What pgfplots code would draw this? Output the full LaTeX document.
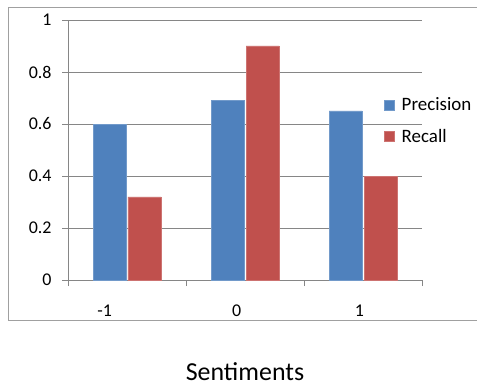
\documentclass[border=0pt]{standalone}
\usepackage{pgfplots}
\pgfplotsset{compat=1.18}
\usepackage{fontspec}
\setmainfont{Carlito}
\definecolor{cblue}{HTML}{4F81BD}
\definecolor{cred}{HTML}{C0504D}
\definecolor{cgrid}{HTML}{868686}
\definecolor{cborder}{HTML}{A0A0A0}
\begin{document}
\begin{tikzpicture}[x=1bp,y=1bp]
\path (0,0) rectangle (477,387);
\draw[cborder, line width=1bp] (476.5,67) -- (8,67) -- (8,379) -- (476.5,379);
\begin{axis}[
  at={(68bp,107bp)}, anchor=south west,
  scale only axis, width=354bp, height=260bp,
  ybar, bar width=33bp,
  xmin=-0.5, xmax=2.5, ymin=0, ymax=1,
  ytick={0,0.2,...,1},
  yticklabel style={font=\fontsize{18}{18}\selectfont, xshift=-7bp},
  /pgf/number format/assume math mode=true,
  ymajorgrids, grid style={cgrid, line width=0.8bp},
  axis x line*=bottom, axis y line*=left,
  axis line style={cgrid, line width=0.8bp},
  xtick={-0.5,0.5,1.5,2.5}, xticklabels={},
  extra x ticks={-0.19,0.93,1.97},
  extra x tick labels={-1,0,1},
  extra x tick style={tick style={draw=none}, xticklabel style={font=\fontsize{18}{18}\selectfont, yshift=-15bp}},
  major tick length=6bp,
  tick style={cgrid, line width=0.8bp},
  tick align=outside,
  legend style={draw=none, fill=none, at={(0.893,0.71)}, anchor=north west, font=\fontsize{19}{19}\selectfont, legend cell align=left, row sep=13bp, inner sep=0pt, /tikz/every odd column/.append style={column sep=5bp}},
  legend image code/.code={\fill[#1] (0bp,-5bp) rectangle (10bp,5bp);},
]
\addplot[fill=cblue, draw=cblue!80!white] coordinates {(0,0.60) (1,0.69) (2,0.65)};
\addplot[fill=cred, draw=cred!80!white] coordinates {(0,0.32) (1,0.90) (2,0.40)};
\legend{Precision, Recall}
\end{axis}
\node[font=\fontsize{26}{26}\selectfont, inner sep=0pt] at (245bp,15bp) {Sentiments};
\end{tikzpicture}
\end{document}
